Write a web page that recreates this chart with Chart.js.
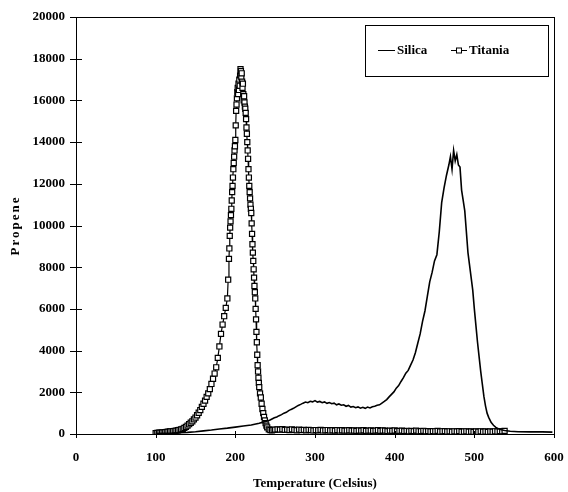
<!DOCTYPE html>
<html>
<head>
<meta charset="utf-8">
<script src="https://cdn.jsdelivr.net/npm/chart.js@4.4.1/dist/chart.umd.min.js"></script>
<style>
  html, body { margin: 0; padding: 0; background: #fff; }
  canvas { display: block; }
</style>
</head>
<body>
<canvas id="chartCanvas" width="568" height="492"></canvas>
<script>
// Silica: temperature (Celsius) and propene signal
const silicaTemp = [100, 110, 120, 130, 140, 150, 160, 170, 180, 190, 200, 210, 220, 230, 240,
  243, 246, 249, 252, 255, 258, 261, 264, 267, 270, 273, 276, 279, 282, 285, 288, 291, 294, 297,
  300, 303, 306, 309, 312, 315, 318, 321, 324, 327, 330, 333, 336, 339, 342, 345, 348, 351, 354,
  357, 360, 363, 366, 369, 372, 375, 378, 381, 384, 387, 390, 393, 396, 399, 402, 405, 408, 411,
  414, 417, 420, 423, 426, 429, 432, 435, 438, 441, 444, 447, 450, 453, 456, 459, 462, 465, 468,
  470, 472, 474, 476, 478, 480, 482, 484, 486, 488, 490, 492, 494, 496, 498, 500, 502, 504, 506,
  508, 510, 512, 514, 516, 518, 521, 524, 527, 530, 534, 538, 545, 555, 570, 585, 598];
const silicaPropene = [20, 30, 40, 60, 80, 110, 150, 190, 240, 280, 330, 380, 430, 520, 630,
  660, 720, 780, 820, 880, 930, 1000, 1040, 1120, 1180, 1230, 1300, 1370, 1420, 1480, 1530, 1500, 1570, 1540,
  1600, 1530, 1560, 1500, 1540, 1470, 1510, 1450, 1480, 1400, 1440, 1380, 1400, 1330, 1370, 1290, 1320, 1260, 1300,
  1240, 1280, 1230, 1290, 1250, 1310, 1330, 1380, 1400, 1480, 1560, 1650, 1780, 1900, 2020, 2200, 2320, 2520, 2700,
  2920, 3050, 3300, 3550, 3900, 4350, 4800, 5400, 5900, 6600, 7300, 7750, 8300, 8600, 9700, 11100, 11800, 12400, 12900,
  13300, 12700, 13600, 13100, 13400, 12900, 12800, 11700, 11200, 10700, 9700, 8700, 8100, 7500, 6900, 6000, 5200, 4400, 3700,
  3000, 2400, 1800, 1350, 1000, 800, 560, 420, 320, 250, 200, 170, 130, 110, 100, 100, 90];

// Titania: temperature (Celsius) and propene signal
const titaniaTemp = [100, 102, 104, 106, 108, 110, 112, 114, 116, 118, 120, 122, 124, 126, 128,
  130, 132, 134, 136, 138, 140, 142, 144, 146, 148, 150, 152, 154, 156, 158, 160, 162, 164, 166,
  168, 170, 172, 174, 176, 178, 180, 182, 184, 186, 188, 190, 191, 192, 192.5, 193, 193.5, 194,
  194.5, 195, 195.5, 196, 196.5, 197, 197.5, 198, 198.5, 199, 199.5, 200, 200.5, 201, 201.5, 202,
  202.5, 203, 203.5, 204, 204.5, 205, 205.5, 206, 206.5, 207, 207.5, 208, 208.5, 209, 209.5, 210,
  210.5, 211, 211.5, 212, 212.5, 213, 213.5, 214, 214.5, 215, 215.5, 216, 216.5, 217, 217.5, 218,
  218.5, 219, 219.5, 220, 220.5, 221, 221.5, 222, 222.5, 223, 223.5, 224, 224.5, 225, 225.5, 226,
  226.5, 227, 227.5, 228, 228.5, 229, 229.5, 230, 231, 232, 233, 234, 235, 236, 237, 238, 239, 240,
  242, 244, 246, 248, 250, 253, 256, 259, 262, 265, 268, 271, 274, 277, 280, 283, 286, 289, 292,
  295, 298, 301, 304, 307, 310, 313, 316, 319, 322, 325, 328, 331, 334, 337, 340, 343, 346, 349,
  352, 355, 358, 361, 364, 367, 370, 373, 376, 379, 382, 385, 388, 391, 394, 397, 400, 403, 406,
  409, 412, 415, 418, 421, 424, 427, 430, 433, 436, 439, 442, 445, 448, 451, 454, 457, 460, 463,
  466, 469, 472, 475, 478, 481, 484, 487, 490, 493, 496, 499, 502, 505, 508, 511, 514, 517, 520,
  523, 526, 529, 532, 535, 538];
const titaniaPropene = [40, 50, 60, 60, 70, 80, 90, 100, 110, 120, 130, 140, 150, 160, 180,
  200, 220, 250, 290, 340, 400, 470, 540, 610, 700, 790, 900, 1020, 1150, 1300, 1450, 1600, 1780, 1950,
  2150, 2400, 2650, 2900, 3200, 3650, 4200, 4800, 5250, 5650, 6050, 6500, 7400, 8400, 8900, 9500, 9900, 10200,
  10500, 10800, 11200, 11600, 11900, 12300, 12700, 13000, 13300, 13600, 13800, 14100, 14800, 15500, 15800, 16100,
  16400, 16600, 16300, 16800, 16500, 17000, 16700, 17200, 17500, 17400, 17100, 17300, 16900, 16600, 16800, 16300,
  16000, 16200, 15900, 15700, 15600, 15400, 15100, 14700, 14400, 14000, 13600, 13200, 12700, 12300, 11900, 11600,
  11300, 11000, 10800, 10600, 10100, 9600, 9100, 8700, 8300, 7900, 7500, 7100, 6800, 6500, 6000, 5500,
  4900, 4400, 3800, 3300, 3000, 2700, 2450, 2250, 1950, 1750, 1450, 1200, 1000, 820, 650, 520, 400, 320,
  220, 190, 180, 200, 210, 220, 210, 230, 200, 210, 190, 220, 200, 180, 210, 190, 200, 180, 200,
  190, 170, 190, 180, 200, 170, 180, 190, 170, 180, 160, 190, 170, 180, 160, 170, 180, 160, 170,
  150, 170, 160, 180, 150, 160, 170, 150, 160, 180, 150, 170, 160, 140, 160, 150, 170, 140, 150,
  160, 140, 150, 130, 150, 140, 160, 130, 140, 150, 130, 140, 120, 140, 130, 150, 120, 130, 140,
  120, 130, 110, 130, 120, 140, 110, 120, 130, 110, 120, 100, 120, 110, 130, 110, 120, 100, 120,
  110, 130, 120, 140, 130, 150];

const xTicks = [0, 100, 200, 300, 400, 500, 600];
const yTicks = [0, 2000, 4000, 6000, 8000, 10000, 12000, 14000, 16000, 18000, 20000];

const serif = '"Liberation Serif", "DejaVu Serif", serif';

// frame, crossing tick marks, y title and boxed legend
const decorations = {
    id: 'decorations',
    afterDraw(chart){
        const ctx = chart.ctx;
        const area = chart.chartArea;
        const xs = chart.scales.x;
        const ys = chart.scales.y;
        ctx.save();
        ctx.strokeStyle = '#000';
        ctx.lineWidth = 1;
        ctx.strokeRect(Math.round(area.left) + 0.5, Math.round(area.top) + 0.5,
            Math.round(area.right - area.left), Math.round(area.bottom - area.top));

        ctx.beginPath();
        xTicks.forEach(v => {
            const px = Math.round(xs.getPixelForValue(v)) + 0.5;
            ctx.moveTo(px, area.bottom - 3);
            ctx.lineTo(px, area.bottom + 4);
        });
        yTicks.forEach(v => {
            const py = Math.round(ys.getPixelForValue(v)) + 0.5;
            ctx.moveTo(area.left - 6, py);
            ctx.lineTo(area.left + 6, py);
        });
        ctx.stroke();

        // y axis title
        ctx.fillStyle = '#000';
        ctx.font = 'bold 13px ' + serif;
        ctx.textAlign = 'center';
        ctx.textBaseline = 'middle';
        ctx.save();
        ctx.translate(16, (area.top + area.bottom) / 2);
        ctx.rotate(-Math.PI / 2);
        ctx.letterSpacing = '2px';
        ctx.fillText('Propene', 0, 0);
        ctx.restore();

        // legend
        ctx.strokeRect(365.5, 25.5, 183, 51);
        ctx.textAlign = 'left';
        ctx.beginPath();
        ctx.moveTo(378, 50.5);
        ctx.lineTo(395, 50.5);
        ctx.moveTo(451, 50.5);
        ctx.lineTo(467, 50.5);
        ctx.stroke();
        ctx.fillStyle = '#fff';
        ctx.fillRect(456.5, 48, 5, 5);
        ctx.strokeRect(456.5, 48, 5, 5);
        ctx.fillStyle = '#000';
        ctx.fillText('Silica', 397, 51);
        ctx.fillText('Titania', 469, 51);
        ctx.restore();
    }
};

const ctx = document.getElementById('chartCanvas');

new Chart(ctx, {
    type: 'scatter',
    data: {
        datasets: [{
            label: 'Silica',
            data: silicaTemp.map((t, i) => ({x: t, y: silicaPropene[i]})),
            showLine: true,
            borderColor: '#000',
            borderWidth: 1.6,
            pointRadius: 0,
            tension: 0
        }, {
            label: 'Titania',
            data: titaniaTemp.map((t, i) => ({x: t, y: titaniaPropene[i]})),
            showLine: true,
            borderColor: '#000',
            borderWidth: 1.2,
            pointStyle: 'rect',
            pointRadius: 3.6,
            pointBorderWidth: 1.2,
            pointBorderColor: '#000',
            pointBackgroundColor: '#fff',
            tension: 0
        }]
    },
    options: {
        responsive: false,
        animation: false,
        layout: { padding: { top: 17, right: 14, left: 0, bottom: 0 } },
        plugins: {
            legend: { display: false },
            tooltip: { enabled: false }
        },
        scales: {
            x: {
                type: 'linear',
                min: 0,
                max: 600,
                afterFit: scale => {
                    scale.height = 58;
                    scale.paddingLeft = 0;
                    scale.paddingRight = 0;
                },
                afterBuildTicks: scale => { scale.ticks = xTicks.map(v => ({value: v})); },
                grid: { display: false, drawTicks: false },
                border: { display: false },
                ticks: {
                    color: '#000',
                    padding: 16,
                    maxRotation: 0,
                    callback: v => String(v),
                    font: { family: serif, size: 13, weight: 'bold' }
                },
                title: {
                    display: true,
                    text: 'Temperature (Celsius)',
                    color: '#000',
                    padding: { top: 0, bottom: 1 },
                    font: { family: serif, size: 13, weight: 'bold' }
                }
            },
            y: {
                min: 0,
                max: 20000,
                afterFit: scale => {
                    scale.width = 76;
                    scale.paddingTop = 0;
                    scale.paddingBottom = 0;
                },
                afterBuildTicks: scale => { scale.ticks = yTicks.map(v => ({value: v})); },
                grid: { display: false, drawTicks: false },
                border: { display: false },
                ticks: {
                    color: '#000',
                    padding: 11,
                    callback: v => String(v),
                    font: { family: serif, size: 13, weight: 'bold' }
                }
            }
        }
    },
    plugins: [decorations]
});
</script>
</body>
</html>
